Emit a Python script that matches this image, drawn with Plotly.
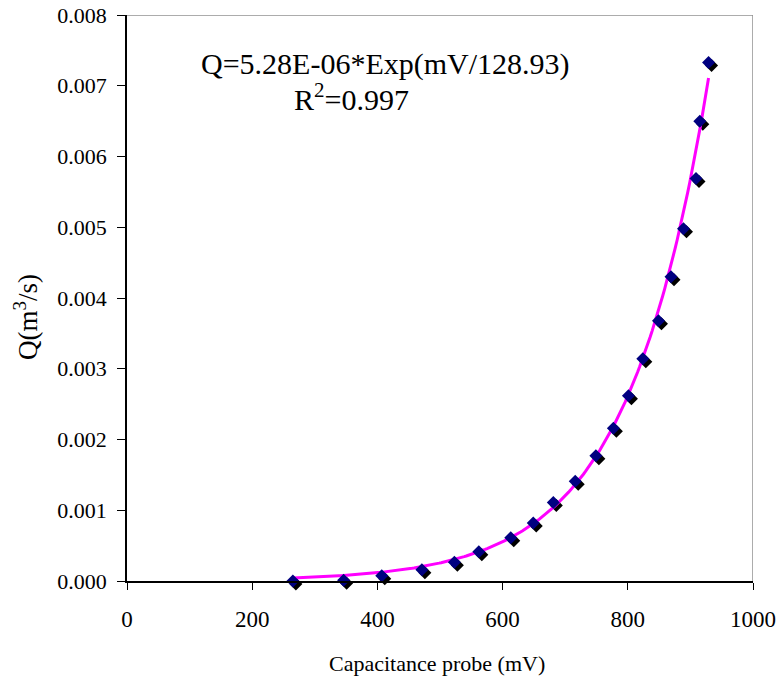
import numpy as np
import plotly.graph_objects as go

# Data
mv = [265, 275, 346, 407, 471, 523, 562, 613, 649, 681, 716, 749, 777, 801,
      824, 849, 869, 889, 909, 915, 929]
q = [0.0000, -0.00001, 0.00001, 0.000075, 0.00016, 0.000265, 0.000414, 0.00061,
     0.00082, 0.00111, 0.00141, 0.00177, 0.00216, 0.00262, 0.00314, 0.00368,
     0.00430, 0.00498, 0.00569, 0.00650, 0.00733]

# Fitted trendline coefficients (as shown on chart)
fit_a = 5.28e-06
fit_b = 128.93

x_ticks = [0, 200, 400, 600, 800, 1000]
y_ticks = [0.000, 0.001, 0.002, 0.003, 0.004, 0.005, 0.006, 0.007, 0.008]

fit_x = np.linspace(min(mv), max(mv), 200)
fit_y = fit_a * np.exp(fit_x / fit_b)

FONT = "Times New Roman, Liberation Serif, serif"

W, H = 779, 678
off = 3  # shadow offset in px
L, T = 127, 15
main_w, main_h = 626, 566
pw = main_w + off
ph = main_h + off
R = W - L - pw
B = H - T - ph
ex = off / pw
ey = off / ph

fig = go.Figure()

# shadow markers (offset subplot)
fig.add_trace(go.Scatter(
    x=mv, y=q, mode="markers", xaxis="x", yaxis="y",
    marker=dict(symbol="diamond", size=10, color="black"),
    cliponaxis=False, showlegend=False, hoverinfo="skip"))

# trendline
fig.add_trace(go.Scatter(
    x=fit_x, y=fit_y, mode="lines", xaxis="x2", yaxis="y2",
    line=dict(color="#FF00FF", width=3), showlegend=False))

# main markers
fig.add_trace(go.Scatter(
    x=mv, y=q, mode="markers", xaxis="x2", yaxis="y2",
    marker=dict(symbol="diamond", size=10, color="#000080"),
    cliponaxis=False, showlegend=False))

# paper coordinates for placed texts
def px_x(px):
    return (px - L) / pw

def px_y(py):
    return 1 - (py - T) / ph

fig.update_layout(
    width=W, height=H,
    margin=dict(l=L, r=R, t=T, b=B),
    paper_bgcolor="white", plot_bgcolor="rgba(0,0,0,0)",
    font=dict(family=FONT, size=23, color="black"),
    xaxis=dict(range=[0, 1000], domain=[ex, 1], anchor="y", visible=False),
    yaxis=dict(range=[0, 0.008], domain=[0, 1 - ey], anchor="x", visible=False),
    xaxis2=dict(range=[0, 1000], domain=[0, 1 - ex], anchor="y2", automargin=False,
                showgrid=False, zeroline=False, showline=True, linecolor="black",
                linewidth=1.5, ticks="outside", ticklen=7, tickcolor="black",
                ticklabelstandoff=10,
                tickvals=x_ticks, ticktext=[str(v) for v in x_ticks],
                tickfont=dict(size=23, family=FONT)),
    yaxis2=dict(range=[0, 0.008], domain=[ey, 1], anchor="x2", automargin=False,
                showgrid=False, zeroline=False, showline=True, linecolor="black",
                linewidth=1.5, ticks="outside", ticklen=8, tickcolor="black",
                ticklabelstandoff=6,
                tickvals=y_ticks, ticktext=[f"{v:.3f}" for v in y_ticks],
                tickfont=dict(size=22, family=FONT)),
    shapes=[
        dict(type="line", xref="x2", yref="y2", x0=0, x1=1000, y0=0.008, y1=0.008,
             line=dict(color="#909090", width=1.5)),
        dict(type="line", xref="x2", yref="y2", x0=1000, x1=1000, y0=0, y1=0.008,
             line=dict(color="#909090", width=1.5)),
    ],
    annotations=[
        dict(text="Q=5.28E-06*Exp(mV/128.93)", xref="paper", yref="paper",
             x=px_x(385), y=px_y(64), showarrow=False, xanchor="center", yanchor="middle",
             font=dict(size=30, family=FONT)),
        dict(text="R<sup>2</sup>=0.997", xref="paper", yref="paper",
             x=px_x(351), y=px_y(97), showarrow=False, xanchor="center", yanchor="middle",
             font=dict(size=30, family=FONT)),
        dict(text="Capacitance probe (mV)", xref="paper", yref="paper",
             x=px_x(437), y=px_y(663), showarrow=False, xanchor="center", yanchor="middle",
             font=dict(size=22, family=FONT)),
        dict(text="Q(m<sup>3</sup>/s)", xref="paper", yref="paper", textangle=-90,
             x=px_x(26), y=px_y(317), showarrow=False, xanchor="center", yanchor="middle",
             font=dict(size=27, family=FONT)),
    ],
)

fig.write_html(
    "out.html",
    config={"displayModeBar": False},
    post_script="document.body.style.margin='0';document.body.style.overflow='hidden';",
)
